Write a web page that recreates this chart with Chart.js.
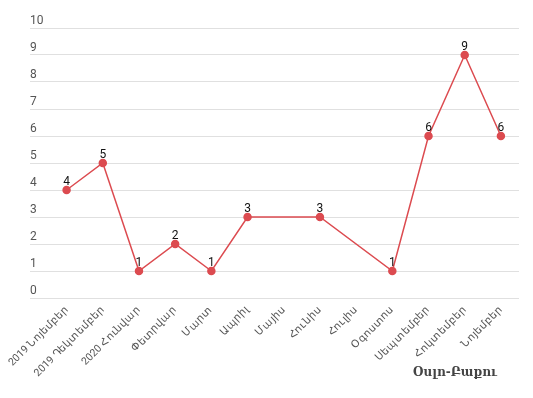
<!DOCTYPE html>
<html>
<head>
<meta charset="utf-8">
<script src="https://cdn.jsdelivr.net/npm/chart.js@4"></script>
<style>
  html, body { margin: 0; padding: 0; background: #fff; }
  #wrap { width: 533px; height: 398px; }
</style>
</head>
<body>
<div id="wrap"><canvas id="chart"></canvas></div>
<script>
const months = [
    '2019 Նոյեմբեր', '2019 Դեկտեմբեր', '2020 Հունվար', 'Փետրվար', 'Մարտ', 'Ապրիլ',
    'Մայիս', 'Հունիս', 'Հուլիս', 'Օգոստոս', 'Սեպտեմբեր', 'Հոկտեմբեր', 'Նոյեմբեր'
];
const flights = [4, 5, 1, 2, 1, 3, null, 3, null, 1, 6, 9, 6];
const yTicks = [0, 1, 2, 3, 4, 5, 6, 7, 8, 9, 10];
const routeName = 'Օսլո-Բաքու';

const lineColor = '#dc4b50';

// value labels above each point
const pointLabels = {
    id: 'pointLabels',
    afterDatasetsDraw(chart) {
        const ctx = chart.ctx;
        const meta = chart.getDatasetMeta(0);
        ctx.save();
        ctx.font = '12px Roboto';
        ctx.fillStyle = '#111';
        ctx.textAlign = 'center';
        ctx.textBaseline = 'bottom';
        meta.data.forEach((pt, i) => {
            const v = chart.data.datasets[0].data[i];
            if (v === null) return;
            ctx.fillText(v, pt.x, pt.y - 2);
        });
        ctx.restore();
    }
};

// route name under the axis, bottom right
const routeTitle = {
    id: 'routeTitle',
    afterDraw(chart) {
        const ctx = chart.ctx;
        const area = chart.chartArea;
        ctx.save();
        ctx.font = 'bold 12px "DejaVu Serif", "Liberation Serif", serif';
        ctx.fillStyle = '#444';
        ctx.textAlign = 'right';
        ctx.textBaseline = 'middle';
        ctx.fillText(routeName, area.right - 22, 373);
        ctx.restore();
    }
};

new Chart(document.getElementById('chart'), {
    type: 'line',
    data: {
        labels: months,
        datasets: [{
            data: flights,
            borderColor: lineColor,
            backgroundColor: lineColor,
            borderWidth: 1.5,
            pointRadius: 3.5,
            pointHoverRadius: 4,
            spanGaps: true,
            tension: 0,
        }],
    },
    options: {
        responsive: true,
        maintainAspectRatio: false,
        animation: false,
        layout: { padding: { left: 30, right: 14, top: 28, bottom: 0 } },
        plugins: {
            legend: { display: false },
            tooltip: { enabled: false },
        },
        scales: {
            x: {
                offset: true,
                grid: { display: false, drawTicks: false },
                border: { display: false },
                afterFit: (scale) => { scale.height = 100; },
                ticks: {
                    autoSkip: false,
                    minRotation: 45,
                    maxRotation: 45,
                    padding: 6,
                    color: '#555',
                    font: { family: 'Roboto', size: 10.5 },
                },
            },
            y: {
                min: 0,
                max: 10,
                afterFit: (scale) => { scale.width = 18.5; },
                afterBuildTicks: (scale) => { scale.ticks = yTicks.map(v => ({ value: v })); },
                border: { display: false },
                grid: { color: '#e0e0e0', tickLength: 18.5, tickColor: '#e0e0e0' },
                ticks: {
                    crossAlign: 'far',
                    labelOffset: -7,
                    padding: 0,
                    color: '#555',
                    font: { family: 'Roboto', size: 12 },
                },
            },
        },
    },
    plugins: [pointLabels, routeTitle],
});
</script>
</body>
</html>
